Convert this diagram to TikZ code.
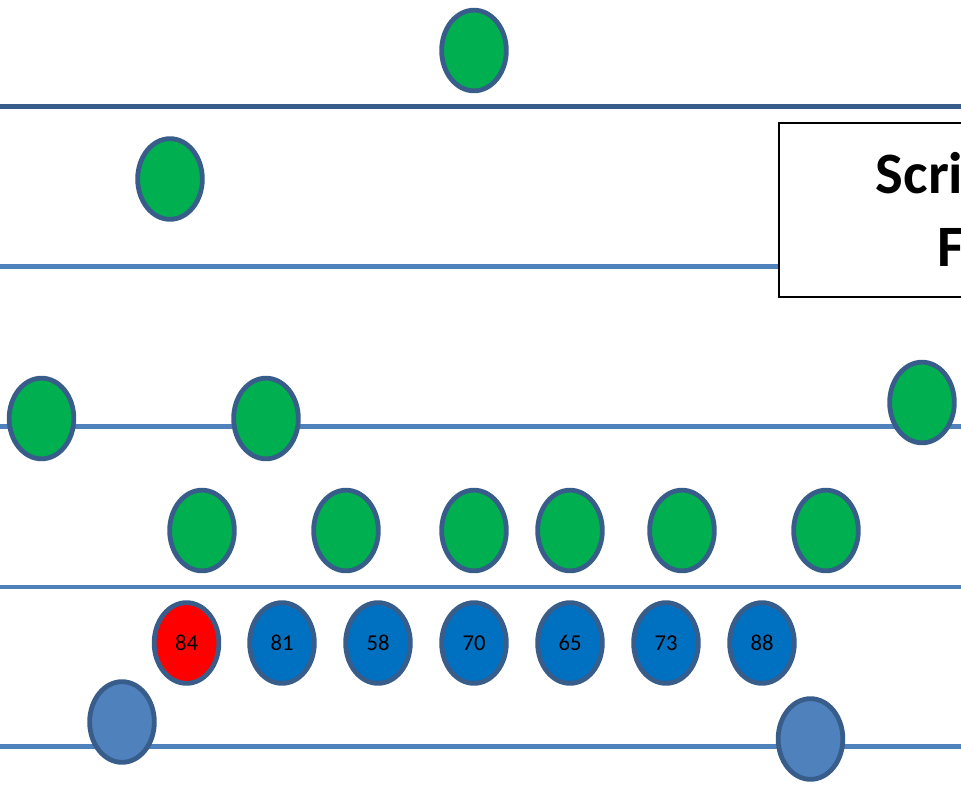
\documentclass[tikz,border=0pt]{standalone}
\usepackage{fontspec}
\setmainfont{Carlito}
\usetikzlibrary{shapes.geometric}
\definecolor{ovalgreen}{HTML}{00B050}
\definecolor{ovaledge}{HTML}{385D8A}
\definecolor{ovalblue}{HTML}{0070C0}
\definecolor{ovalred}{HTML}{FF0000}
\definecolor{ovallight}{HTML}{4F81BD}
\definecolor{rowline}{HTML}{4F81BD}
\begin{document}
\begin{tikzpicture}[x=0.75pt,y=0.75pt,yscale=-1,xscale=1,
    oval/.style={ellipse, draw=ovaledge, line width=3.6pt, minimum width=48.5pt, minimum height=60.5pt, inner sep=0pt, font=\fontsize{17}{20}\selectfont},
    row/.style={rowline, line width=3.2pt}]
    \useasboundingbox (0,0) rectangle (961,785);
    %Straight Lines
    \draw [ovaledge, line width=3.8pt] (0,106.5) -- (961,106.5) ;
    \draw [row] (0,266.5) -- (961,266.5) ;
    \draw [row] (0,426.5) -- (961,426.5) ;
    \draw [row] (0,587) -- (961,587) ;
    \draw [row] (0,746.5) -- (961,746.5) ;
    %Shape: Rectangle
    \draw [fill=white, line width=1.1pt] (779,123) -- (975,123) -- (975,297) -- (779,297) -- cycle ;
    % Text Node
    \node [anchor=base west, inner sep=0pt, font=\fontsize{44}{53}\selectfont\bfseries] (title1) at (875.5,193.3) {Scri};
    % Text Node
    \node [anchor=base west, inner sep=0pt, font=\fontsize{44}{53}\selectfont\bfseries] (title2) at (937,266.7) {F};
    %Shape: Ellipse (green)
    \node [oval, fill=ovalgreen] (top) at (474,50.5) {};
    \node [oval, fill=ovalgreen] (up) at (170,179) {};
    \node [oval, fill=ovalgreen] (midA) at (41.5,418.5) {};
    \node [oval, fill=ovalgreen] (midB) at (266,418.5) {};
    \node [oval, fill=ovalgreen] (midC) at (922,402.5) {};
    \foreach \x [count=\i] in {202,346,474,570,682,826}
        \node [oval, fill=ovalgreen] (low\i) at (\x,530.5) {};
    %Shape: Ellipse (numbers)
    \node [oval, fill=ovalred] (n84) at (186.5,643) {84};
    \foreach \x/\v in {282/81,378/58,474/70,570/65,666/73,762/88}
        \node [oval, fill=ovalblue] (n\v) at (\x,643) {\v};
    %Shape: Ellipse (bottom)
    \node [oval, fill=ovallight] (botA) at (122,722) {};
    \node [oval, fill=ovallight] (botB) at (810.5,739) {};
\end{tikzpicture}
\end{document}
